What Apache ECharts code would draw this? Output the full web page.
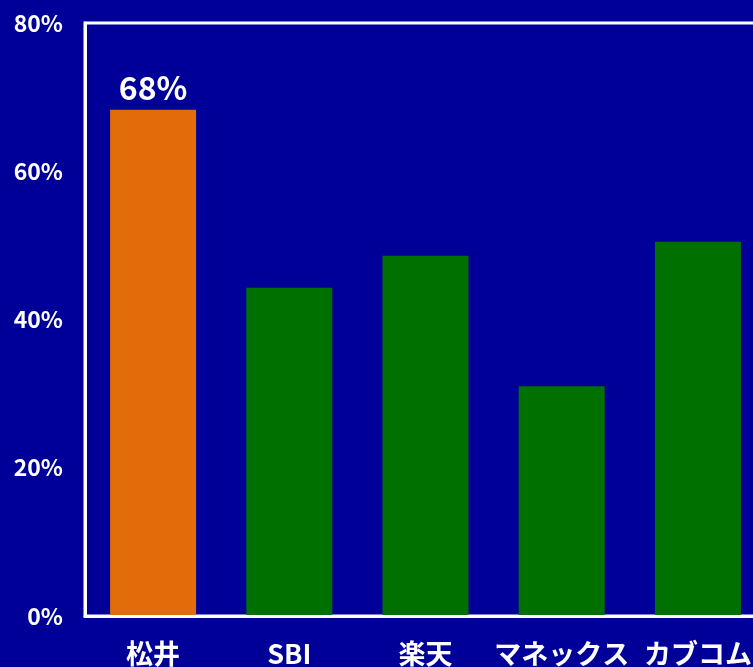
<!DOCTYPE html>
<html>
<head>
<meta charset="utf-8">
<script src="https://cdn.jsdelivr.net/npm/echarts@6/dist/echarts.min.js"></script>
<style>html,body{margin:0;padding:0;background:#000099;}#c{width:753px;height:667px;}</style>
</head>
<body>
<div id="c"></div>
<script>
const categories = ['松井', 'SBI', '楽天', 'マネックス', 'カブコム'];
const values = [68.3, 44.3, 48.6, 31.0, 50.5];
const highlightIndex = 0;
const yTicks = [0, 20, 40, 60, 80];

const chart = echarts.init(document.getElementById('c'), null, {renderer: 'canvas'});
const font = '"Noto Sans CJK JP", "Noto Sans", sans-serif';
chart.setOption({
  backgroundColor: '#000099',
  animation: false,
  grid: {left: 85, top: 23, bottom: 51, width: 681, outerBoundsMode: 'none', show: true, borderColor: '#ffffff', borderWidth: 3, backgroundColor: 'transparent', containLabel: false},
  xAxis: {
    type: 'category', data: categories, z: 5,
    axisLine: {show: true, lineStyle: {color: '#ffffff', width: 3}},
    axisTick: {show: false},
    axisLabel: {color: '#ffffff', fontSize: 27, fontWeight: 'bold', fontFamily: font, margin: 24, interval: 0}
  },
  yAxis: {
    type: 'value', min: yTicks[0], max: yTicks[yTicks.length - 1], interval: 20, z: 5,
    axisLine: {show: true, lineStyle: {color: '#ffffff', width: 3}},
    axisTick: {show: false},
    splitLine: {show: false},
    axisLabel: {color: '#ffffff', fontSize: 23, fontWeight: 'bold', fontFamily: font, margin: 22, formatter: '{value}%'}
  },
  series: [{
    type: 'bar', barWidth: 86,
    data: values.map((v, i) => ({
      value: v,
      itemStyle: {color: i === highlightIndex ? '#E36C0A' : '#007000'},
      label: i === highlightIndex ? {show: true, position: 'top', distance: 6, color: '#ffffff', fontSize: 32, fontWeight: 'bold', fontFamily: font, formatter: p => Math.round(p.value) + '%'} : {show: false}
    }))
  }]
});
</script>
</body>
</html>
